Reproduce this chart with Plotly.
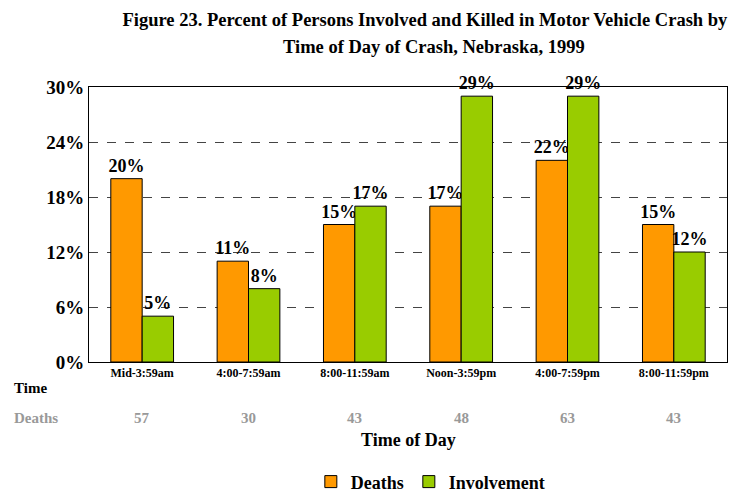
import plotly.graph_objects as go

time_slots = ["Mid-3:59am", "4:00-7:59am", "8:00-11:59am", "Noon-3:59pm", "4:00-7:59pm", "8:00-11:59pm"]
deaths_pct = [20, 11, 15, 17, 22, 15]
involvement_pct = [5, 8, 17, 29, 29, 12]
death_counts = [57, 30, 43, 48, 63, 43]
y_ticks = [0, 6, 12, 18, 24, 30]

FONT = "Liberation Serif"

fig = go.Figure()
fig.add_trace(go.Bar(
    x=time_slots, y=deaths_pct, name="<b>Deaths</b>",
    marker=dict(color="#FF9900", line=dict(color="black", width=1)),
    text=[f"<b>{v}%</b>" for v in deaths_pct], textposition="outside", constraintext="none",
    textfont=dict(family=FONT, size=18, color="black"),
    cliponaxis=False,
))
fig.add_trace(go.Bar(
    x=time_slots, y=involvement_pct, name="<b>Involvement</b>",
    marker=dict(color="#99CC00", line=dict(color="black", width=1)),
    text=[f"<b>{v}%</b>" for v in involvement_pct], textposition="outside", constraintext="none",
    textfont=dict(family=FONT, size=18, color="black"),
    cliponaxis=False,
))

# "Time" / "Deaths" row labels and the deaths count row under the axis
fig.add_annotation(text="<b>Time</b>", xref="paper", yref="paper", x=-0.12, y=-0.095,
                   xanchor="left", yanchor="middle", showarrow=False,
                   font=dict(family=FONT, size=15, color="black"))
fig.add_annotation(text="<b>Deaths</b>", xref="paper", yref="paper", x=-0.12, y=-0.204,
                   xanchor="left", yanchor="middle", showarrow=False,
                   font=dict(family=FONT, size=15, color="#999999"))
for slot, n in zip(time_slots, death_counts):
    fig.add_annotation(text=f"<b>{n}</b>", x=slot, xref="x", yref="paper", y=-0.204,
                       yanchor="middle", showarrow=False,
                       font=dict(family=FONT, size=15, color="#999999"))
fig.add_annotation(text="<b>Time of Day</b>", xref="paper", yref="paper", x=0.5, y=-0.284,
                   xanchor="center", yanchor="middle", showarrow=False,
                   font=dict(family=FONT, size=18, color="black"))
fig.add_annotation(text="<b>Time of Day of Crash, Nebraska, 1999</b>", xref="paper", yref="paper",
                   x=0.54, y=1.145, xanchor="center", yanchor="middle", showarrow=False,
                   font=dict(family=FONT, size=18.5, color="black"))

# page body has an 8px margin, so the figure is 8px smaller than the window
fig.update_layout(
    title=dict(
        text="<b>Figure 23. Percent of Persons Involved and Killed in Motor Vehicle Crash by</b>",
        font=dict(family=FONT, size=18.5, color="black"),
        x=0.568, xanchor="center", xref="container",
        y=0.99, yanchor="top", yref="container",
    ),
    width=734, height=490,
    margin=dict(l=81, r=15, t=79, b=136, autoexpand=False),
    barmode="group", bargap=0.41, bargroupgap=0,
    plot_bgcolor="white", paper_bgcolor="white",
    font=dict(family=FONT, color="black"),
    showlegend=True,
    legend=dict(orientation="h", x=0.535, xanchor="center", y=-0.436, yanchor="middle",
                font=dict(family=FONT, size=18, color="black"),
                itemwidth=30, tracegroupgap=0),
    xaxis=dict(
        automargin=False,
        showline=True, mirror=True, linecolor="black", linewidth=1,
        tickfont=dict(family=FONT, size=12, color="black"),
        tickprefix="<b>", ticksuffix="</b>", ticks="",
    ),
    yaxis=dict(
        automargin=False,
        range=[0, 30], tickvals=y_ticks,
        ticktext=[f"<b>{v}%</b>" for v in y_ticks],
        tickfont=dict(family=FONT, size=19, color="black"),
        showline=True, mirror=True, linecolor="black", linewidth=1,
        showgrid=True, gridcolor="#444444", griddash="dash", gridwidth=1,
        zeroline=False,
    ),
)

fig.write_html("out.html")
